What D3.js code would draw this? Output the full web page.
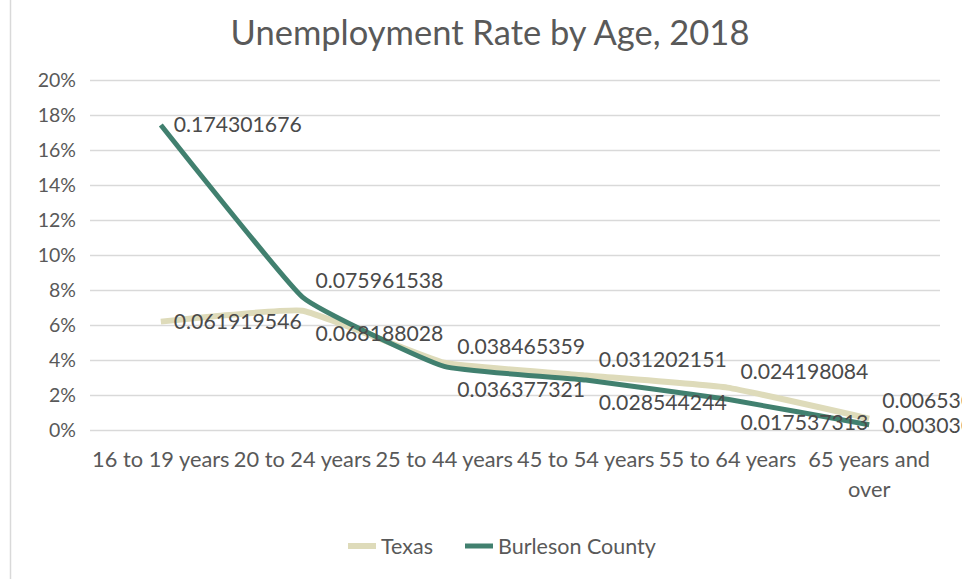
<!DOCTYPE html>
<html>
<head>
<meta charset="utf-8">
<script src="https://cdn.jsdelivr.net/npm/d3@7"></script>
<style>
  html, body { margin: 0; padding: 0; background: #fff; }
  svg { display: block; font-family: Lato, "Liberation Sans", sans-serif; }
</style>
</head>
<body>
<svg id="chart" width="962" height="579"></svg>
<script>
// Age groups on the category axis
const categories = [
  "16 to 19 years", "20 to 24 years", "25 to 44 years",
  "45 to 54 years", "55 to 64 years", "65 years and over"
];
// Unemployment rate (share of labour force) per age group
const texasRates = [0.061919546, 0.068188028, 0.038465359, 0.031202151, 0.024198084, 0.006530612];
const burlesonRates = [0.174301676, 0.075961538, 0.036377321, 0.028544244, 0.017537313, 0.003030303];
const seriesNames = ["Texas", "Burleson County"];
const yTicks = [0, 0.02, 0.04, 0.06, 0.08, 0.10, 0.12, 0.14, 0.16, 0.18, 0.20];

const series = [
  { name: seriesNames[0], values: texasRates, color: "#dedbba", width: 6 },
  { name: seriesNames[1], values: burlesonRates, color: "#41806f", width: 5 }
];

const svg = d3.select("#chart");
const plot = { left: 90, right: 940, top: 80, bottom: 430 };
const textColor = "#595959";

// chart frame
svg.append("rect")
  .attr("x", 10.5).attr("y", -2)
  .attr("width", 1000).attr("height", 590)
  .attr("fill", "#fff").attr("stroke", "#d9d9d9").attr("stroke-width", 1.5);

// title
svg.append("text")
  .attr("x", 490).attr("y", 45)
  .attr("text-anchor", "middle")
  .attr("font-size", 34.5)
  .attr("fill", textColor)
  .text("Unemployment Rate by Age, 2018");

const x = d3.scaleBand().domain(categories).range([plot.left, plot.right]);
const y = d3.scaleLinear().domain([0, 0.2]).range([plot.bottom, plot.top]);
const cx = c => x(c) + x.bandwidth() / 2;

// horizontal gridlines + percentage labels
const yAxis = d3.axisLeft(y).tickValues(yTicks).tickFormat(d3.format(".0%"))
  .tickSize(-(plot.right - plot.left)).tickPadding(14);
const gy = svg.append("g").attr("transform", `translate(${plot.left},0)`).call(yAxis);
gy.select(".domain").remove();
gy.selectAll(".tick line").attr("stroke", "#d9d9d9").attr("stroke-width", 1.3);
gy.selectAll(".tick text").attr("fill", textColor).attr("font-size", 19.5)
  .attr("font-family", "Lato, sans-serif");

// category labels, wrapped to the band width
const xAxis = d3.axisBottom(x).tickSize(0).tickPadding(22);
const gx = svg.append("g").attr("transform", `translate(0,${plot.bottom})`).call(xAxis);
gx.select(".domain").remove();
gx.selectAll(".tick text")
  .attr("fill", textColor).attr("font-size", 21.8).attr("font-family", "Lato, sans-serif")
  .each(function (d) {
    const t = d3.select(this);
    const words = d.split(" ");
    const maxW = x.bandwidth();
    const yy = t.attr("y"), dy = parseFloat(t.attr("dy"));
    t.text(null);
    let line = [], lineNo = 0;
    let tspan = t.append("tspan").attr("x", 0).attr("y", yy).attr("dy", dy + "em");
    for (const w of words) {
      line.push(w);
      tspan.text(line.join(" "));
      if (tspan.node().getComputedTextLength() > maxW && line.length > 1) {
        line.pop();
        tspan.text(line.join(" "));
        line = [w];
        lineNo++;
        tspan = t.append("tspan").attr("x", 0).attr("y", yy)
          .attr("dy", (lineNo * 1.35 + dy) + "em").text(w);
      }
    }
  });

// lines, lightly smoothed
const line = d3.line()
  .x((d, i) => cx(categories[i]))
  .y(d => y(d))
  .curve(d3.curveCardinal.tension(0.65));

series.forEach(s => {
  svg.append("path")
    .datum(s.values)
    .attr("fill", "none")
    .attr("stroke", s.color)
    .attr("stroke-width", s.width)
    .attr("stroke-linejoin", "round")
    .attr("d", line);
});

// value labels: when both series sit close together at a category,
// the higher value's label goes above and the lower one's below
const labelG = svg.append("g").attr("font-size", 21.2).attr("fill", "#4a4a4a");
categories.forEach((c, i) => {
  const pts = series.map(s => ({ v: s.values[i], py: y(s.values[i]) }));
  const close = Math.abs(pts[0].py - pts[1].py) < 40;
  const hi = pts[0].v >= pts[1].v ? 0 : 1;
  const lo = 1 - hi;
  pts.forEach((p, k) => {
    p.ly = p.py;
    if (close) p.ly = k === hi ? p.py - 16 : p.py + 23;
    p.ly = Math.min(p.ly, plot.bottom - 4);
  });
  // keep the pair of labels from touching after the bottom clamp
  if (close) pts[hi].ly = Math.min(pts[hi].ly, pts[lo].ly - 25);
  pts.forEach(p => {
    labelG.append("text")
      .attr("x", cx(c) + 13)
      .attr("y", p.ly)
      .attr("dy", "0.35em")
      .text(String(p.v));
  });
});

// legend
const legend = svg.append("g").attr("transform", "translate(0,546)");
const legendItems = [{ s: series[0], x: 348 }, { s: series[1], x: 465 }];
legendItems.forEach(it => {
  legend.append("line")
    .attr("x1", it.x).attr("x2", it.x + 28)
    .attr("y1", 0).attr("y2", 0)
    .attr("stroke", it.s.color).attr("stroke-width", it.s.width);
  legend.append("text")
    .attr("x", it.x + 33).attr("y", 0).attr("dy", "0.35em")
    .attr("font-size", 21.5).attr("fill", textColor)
    .text(it.s.name);
});
</script>
</body>
</html>
